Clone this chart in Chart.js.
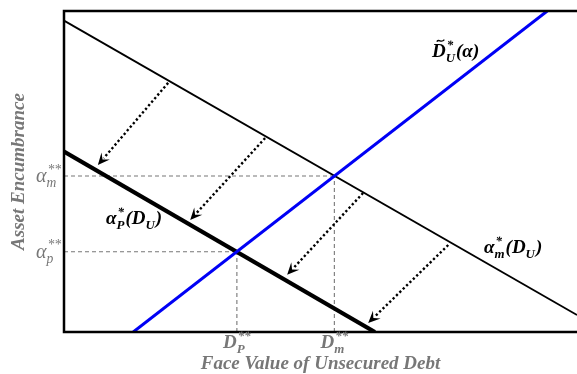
<!DOCTYPE html>
<html>
<head>
<meta charset="utf-8">
<script src="https://cdn.jsdelivr.net/npm/chart.js@4/dist/chart.umd.min.js"></script>
<style>
  html, body { margin: 0; padding: 0; background: #fff; }
  canvas { display: block; }
</style>
</head>
<body>
<canvas id="chart" width="577" height="374"></canvas>
<script>
// lines (data units 0..100 on both axes)
const mLineX = [0, 100],    mLineY = [97.0, 5.3];   // alpha_m*(D_U)
const pLineX = [0, 60.6],   pLineY = [56.2, 0];     // alpha_P*(D_U)
const dLineX = [13.5, 94.2], dLineY = [0, 100];     // D~_U*(alpha)

// equilibrium points: [P, m]
const eqX = [33.7, 52.7];   // D_P**, D_m**
const eqY = [25.0, 48.6];   // alpha_p**, alpha_m**

// dotted arrows, from alpha_m* down to alpha_P*
const arrowFromX = [20.3, 39.2, 58.3, 74.9], arrowFromY = [77.6, 60.4, 43.3, 27.1];
const arrowToX   = [6.6, 24.6, 43.5, 59.3],  arrowToY   = [52.0, 34.9, 17.8, 2.8];

const GRAY = '#777777';
const SERIF = '"Liberation Serif", "DejaVu Serif", serif';

const pts = (xs, ys) => xs.map((x, i) => ({ x, y: ys[i] }));

// rich label: parts = [main, sub, sup, main, ...] drawn left to right
function drawRich(ctx, parts, x, y, size, color, align) {
  const font = (s, w) => `${w} ${s}px ${SERIF}`;
  const weight = parts.weight || 'italic';
  const items = [];
  let total = 0;
  for (const p of parts) {
    if (p.main !== undefined) {
      ctx.font = font(size, weight);
      const w = ctx.measureText(p.main).width;
      items.push({ kind: 'main', t: p.main, w, tilde: p.tilde });
      total += w;
    } else {
      ctx.font = font(size * 0.68, weight);
      const ws = p.sub ? ctx.measureText(p.sub).width : 0;
      const wp = p.sup ? ctx.measureText(p.sup).width : 0;
      const w = Math.max(ws, wp) + 1;
      items.push({ kind: 'script', sub: p.sub, sup: p.sup, w });
      total += w;
    }
  }
  let cx = align === 'right' ? x - total : align === 'center' ? x - total / 2 : x;
  ctx.fillStyle = color;
  ctx.textBaseline = 'alphabetic';
  ctx.textAlign = 'left';
  for (const it of items) {
    if (it.kind === 'main') {
      ctx.font = font(size, weight);
      ctx.fillText(it.t, cx, y);
      if (it.tilde) {
        ctx.save();
        ctx.strokeStyle = color; ctx.lineWidth = 1.4;
        const tx = cx + it.w * 0.35, ty = y - size * 0.86, tw = it.w * 0.55;
        ctx.beginPath();
        ctx.moveTo(tx, ty + 1);
        ctx.bezierCurveTo(tx + tw * 0.3, ty - 2.5, tx + tw * 0.55, ty + 3, tx + tw, ty - 1);
        ctx.stroke();
        ctx.restore();
      }
    } else {
      ctx.font = font(size * 0.68, weight);
      if (it.sub) ctx.fillText(it.sub, cx, y + size * 0.25);
      if (it.sup) ctx.fillText(it.sup, cx + 1, y - size * 0.42);
    }
    cx += it.w;
  }
}

const overlay = {
  id: 'overlay',
  afterDatasetsDraw(chart) {
    const { ctx, chartArea: a, scales: { x, y } } = chart;
    ctx.save();

    // dotted arrows
    for (let i = 0; i < arrowFromX.length; i++) {
      const x0 = x.getPixelForValue(arrowFromX[i]), y0 = y.getPixelForValue(arrowFromY[i]);
      const x1 = x.getPixelForValue(arrowToX[i]),   y1 = y.getPixelForValue(arrowToY[i]);
      const ang = Math.atan2(y1 - y0, x1 - x0);
      const L = 12, W = 5.5;
      const bx = x1 - Math.cos(ang) * (L - 3), by = y1 - Math.sin(ang) * (L - 3);
      ctx.strokeStyle = '#000';
      ctx.lineWidth = 2.4;
      ctx.setLineDash([2.3, 2.4]);
      ctx.beginPath(); ctx.moveTo(x0, y0); ctx.lineTo(bx, by); ctx.stroke();
      ctx.setLineDash([]);
      const nx = -Math.sin(ang), ny = Math.cos(ang);
      const hx = x1 - Math.cos(ang) * L, hy = y1 - Math.sin(ang) * L;
      const kx = x1 - Math.cos(ang) * L * 0.6, ky = y1 - Math.sin(ang) * L * 0.6;
      ctx.fillStyle = '#000';
      ctx.beginPath();
      ctx.moveTo(x1, y1);
      ctx.lineTo(hx + nx * W, hy + ny * W);
      ctx.lineTo(kx, ky);
      ctx.lineTo(hx - nx * W, hy - ny * W);
      ctx.closePath(); ctx.fill();
    }

    // frame: top, left, bottom
    ctx.strokeStyle = '#000';
    ctx.lineWidth = 2.5;
    ctx.beginPath();
    ctx.moveTo(a.right + 2, a.top); ctx.lineTo(a.left, a.top);
    ctx.lineTo(a.left, a.bottom); ctx.lineTo(a.right + 2, a.bottom);
    ctx.stroke();

    // tick labels
    const ySub = ['p', 'm'], xSub = ['P', 'm'];
    eqY.forEach((v, i) => {
      const py = y.getPixelForValue(v);
      drawRich(ctx, [{ main: 'α' }, { sub: ySub[i], sup: '**' }], a.left - 3, py + 6, 20, GRAY, 'right');
    });
    eqX.forEach((v, i) => {
      const px = x.getPixelForValue(v);
      const parts = [{ main: 'D' }, { sub: xSub[i], sup: '**' }];
      parts.weight = 'italic bold';
      drawRich(ctx, parts, px, a.bottom + 16, 19, GRAY, 'center');
    });

    // axis titles
    ctx.fillStyle = GRAY;
    ctx.font = `italic bold 19px ${SERIF}`;
    ctx.textAlign = 'center';
    ctx.textBaseline = 'alphabetic';
    ctx.fillText('Face Value of Unsecured Debt', (a.left + a.right) / 2, 369);
    ctx.save();
    ctx.translate(24, (a.top + a.bottom) / 2);
    ctx.rotate(-Math.PI / 2);
    ctx.fillText('Asset Encumbrance', 0, 0);
    ctx.restore();

    // curve labels
    const lab1 = [{ main: 'D', tilde: true }, { sub: 'U', sup: '*' }, { main: '(α)' }];
    lab1.weight = 'italic bold';
    drawRich(ctx, lab1, 432, 57, 19, '#000', 'left');
    const lab2 = [{ main: 'α' }, { sub: 'P', sup: '*' }, { main: '(D' }, { sub: 'U' }, { main: ')' }];
    lab2.weight = 'italic bold';
    drawRich(ctx, lab2, 106, 224, 19, '#000', 'left');
    const lab3 = [{ main: 'α' }, { sub: 'm', sup: '*' }, { main: '(D' }, { sub: 'U' }, { main: ')' }];
    lab3.weight = 'italic bold';
    drawRich(ctx, lab3, 484, 253, 19, '#000', 'left');

    ctx.restore();
  }
};

const dashed = { borderColor: GRAY, borderWidth: 1.1, borderDash: [4, 3], pointRadius: 0, showLine: true, order: 5 };

new Chart(document.getElementById('chart'), {
  type: 'scatter',
  data: {
    datasets: [
      { ...dashed, data: pts([0, eqX[0]], [eqY[0], eqY[0]]) },
      { ...dashed, data: pts([eqX[0], eqX[0]], [0, eqY[0]]) },
      { ...dashed, data: pts([0, eqX[1]], [eqY[1], eqY[1]]) },
      { ...dashed, data: pts([eqX[1], eqX[1]], [0, eqY[1]]) },
      { data: pts(mLineX, mLineY), showLine: true, borderColor: '#000', borderWidth: 1.8, pointRadius: 0, order: 3 },
      { data: pts(pLineX, pLineY), showLine: true, borderColor: '#000', borderWidth: 4.2, pointRadius: 0, order: 2 },
      { data: pts(dLineX, dLineY), showLine: true, borderColor: '#0000f5', borderWidth: 3, pointRadius: 0, order: 1 }
    ]
  },
  options: {
    responsive: false,
    animation: false,
    layout: { padding: { top: 11, right: 0, left: 0, bottom: 0 } },
    plugins: { legend: { display: false }, tooltip: { enabled: false } },
    scales: {
      x: {
        type: 'linear', min: 0, max: 100,
        grid: { display: false }, border: { display: false }, ticks: { display: false },
        afterFit: s => { s.height = 42; }
      },
      y: {
        type: 'linear', min: 0, max: 100,
        grid: { display: false }, border: { display: false }, ticks: { display: false },
        afterFit: s => { s.width = 64; }
      }
    }
  },
  plugins: [overlay]
});
</script>
</body>
</html>
